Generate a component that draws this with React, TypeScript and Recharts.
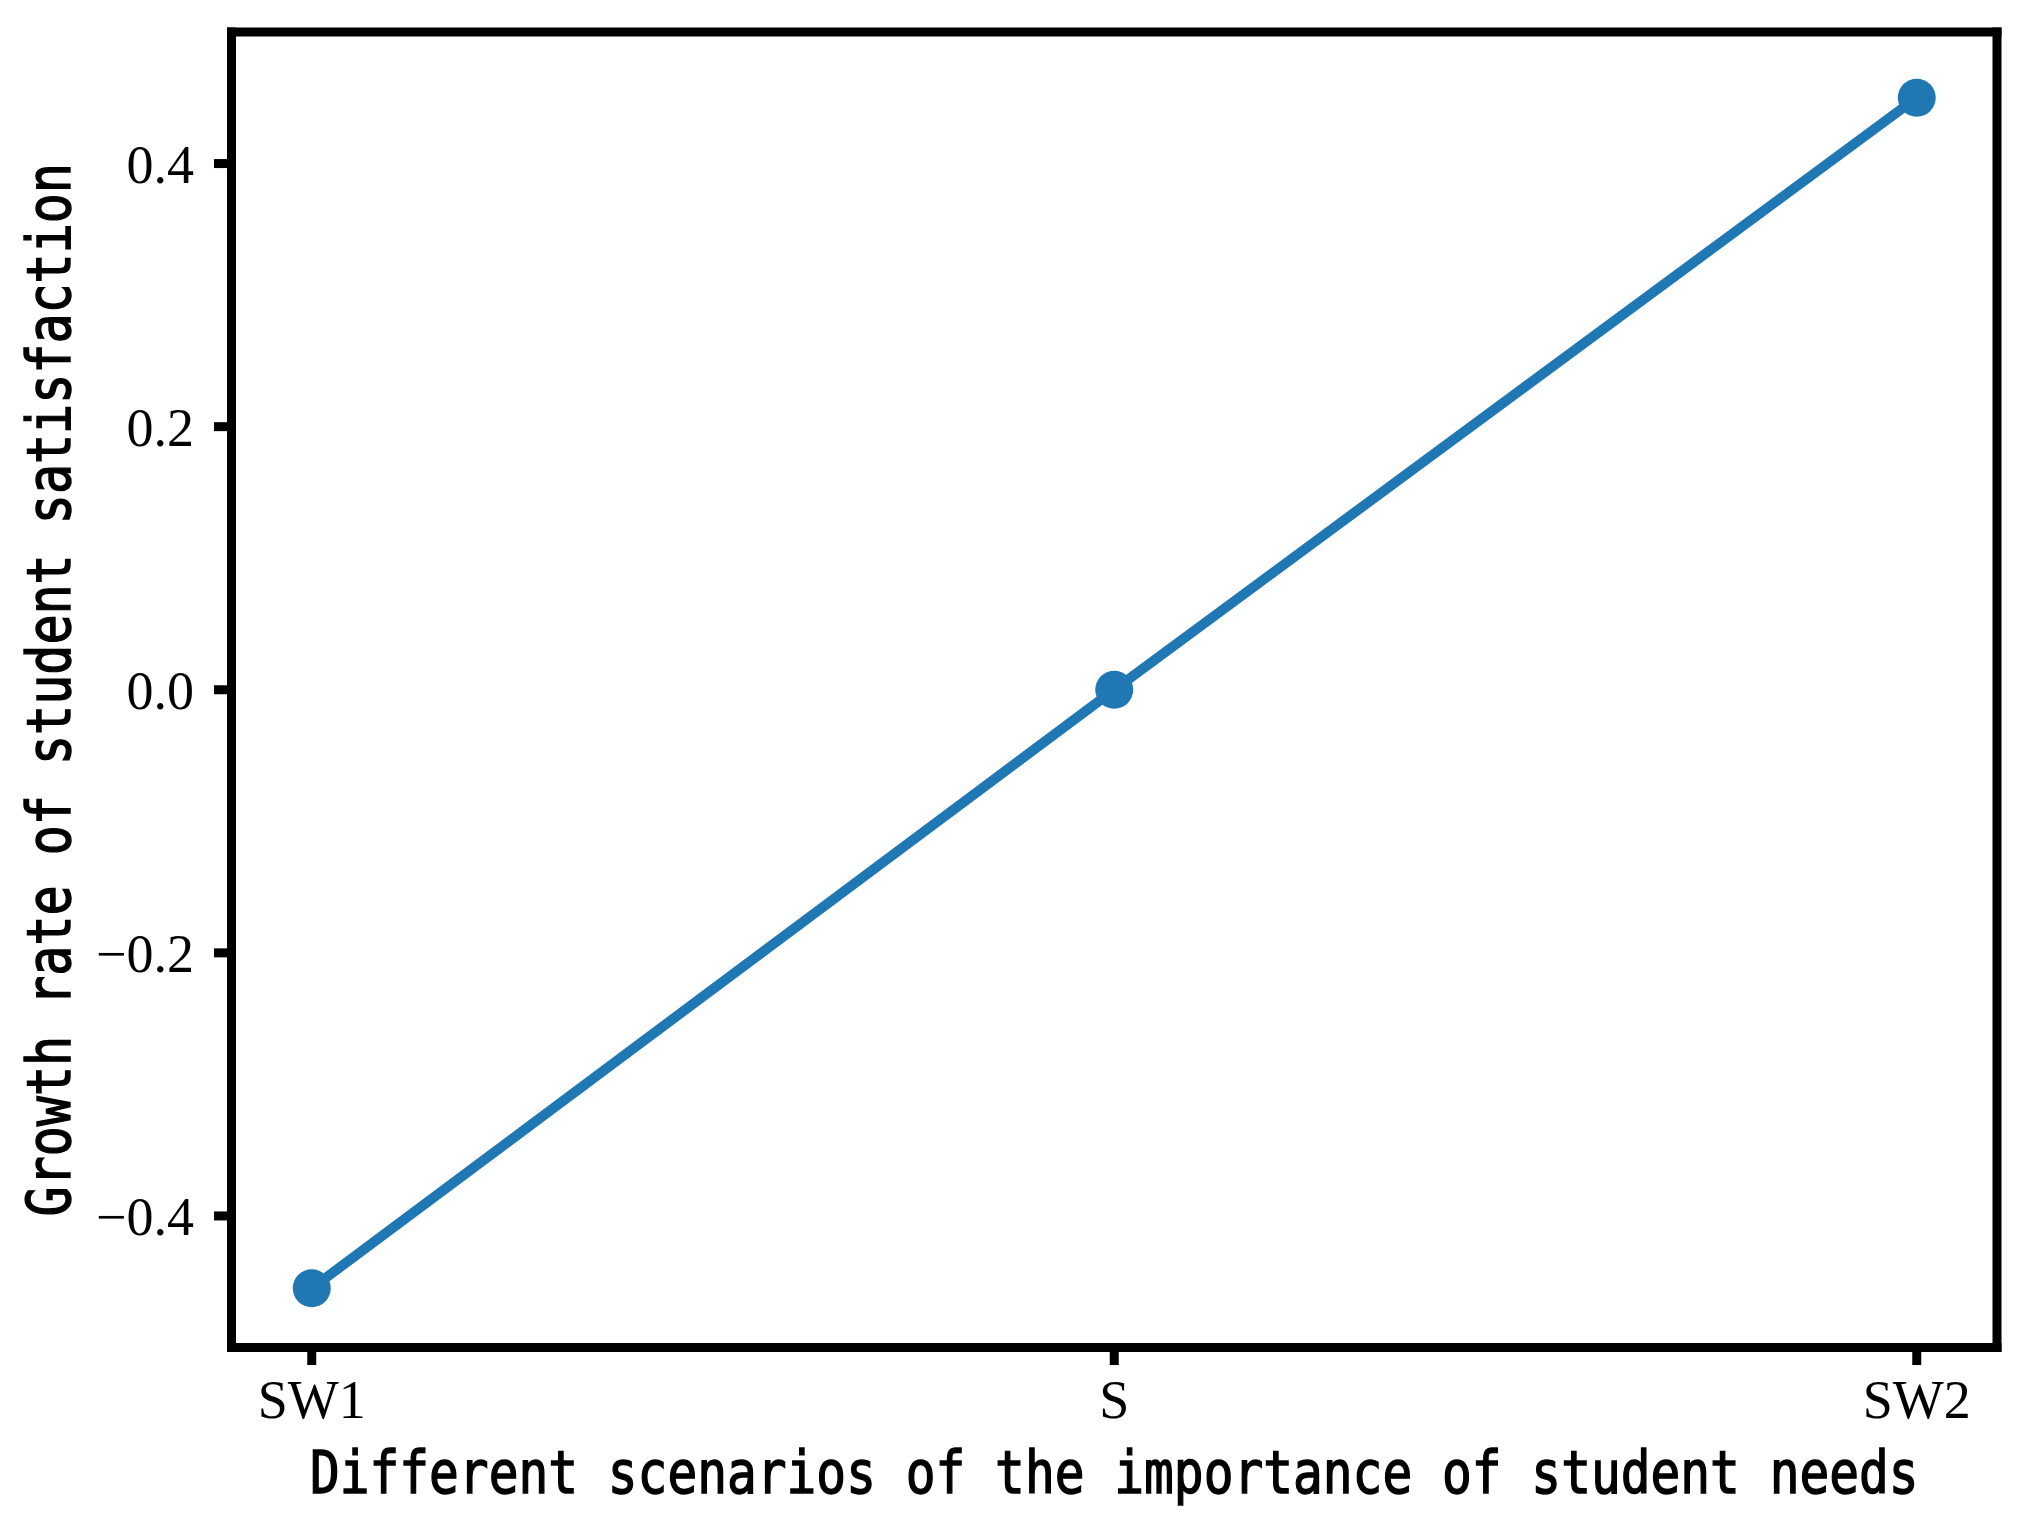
import React from 'react';
import { LineChart, Line, XAxis, YAxis } from 'recharts';

const scenarios = ['SW1', 'S', 'SW2'];
const growthRate = [-0.455, 0, 0.45];
const yTicks = [-0.4, -0.2, 0, 0.2, 0.4];

const data = scenarios.map((name, i) => ({ name, value: growthRate[i] }));

const LINE_COLOR = '#1f77b4';
const frameLine = { stroke: '#000', strokeWidth: 9, strokeLinecap: 'square' as const };
const tickLine = { stroke: '#000', strokeWidth: 9 };
const tickFont = { fontFamily: '"Liberation Serif", "Times New Roman", serif', fontSize: 54, fill: '#000' };
const labelFont = '"DejaVu Sans Mono", "Liberation Mono", monospace';

const fmt = (v: number) => (v < 0 ? '\u2212' + Math.abs(v).toFixed(1) : v.toFixed(1));

const XLabel = (props: any) => {
  const vb = props.viewBox || {};
  const cx = vb.x + vb.width / 2;
  const by = vb.y + 145.5;
  return (
    <text
      transform={`translate(${cx}, ${by}) scale(1, 1.2)`}
      x={0}
      y={0}
      textAnchor="middle"
      fontFamily={labelFont}
      fontSize={49.5}
      fill="#000"
      stroke="#000"
      strokeWidth={1.2}
    >
      Different scenarios of the importance of student needs
    </text>
  );
};

const YLabel = (props: any) => {
  const vb = props.viewBox || {};
  const bx = 70;
  const cy = vb.y + vb.height / 2;
  return (
    <text
      transform={`translate(${bx}, ${cy}) rotate(-90) scale(1, 1.2)`}
      x={0}
      y={0}
      textAnchor="middle"
      fontFamily={labelFont}
      fontSize={50}
      fill="#000"
      stroke="#000"
      strokeWidth={1.2}
    >
      Growth rate of student satisfaction
    </text>
  );
};

export default function App() {
  return (
    <div style={{ position: 'absolute', left: 0, top: 0, background: '#fff' }}>
      <LineChart width={2033} height={1518} data={data} margin={{ top: 31, right: 35, left: 0, bottom: 0 }}>
        <XAxis
          dataKey="name"
          height={170.5}
          padding={{ left: 80.25, right: 80.25 }}
          axisLine={frameLine}
          tickLine={tickLine}
          tickSize={17.5}
          tickMargin={15}
          tick={tickFont}
          label={<XLabel />}
        />
        <XAxis
          xAxisId="top"
          dataKey="name"
          orientation="top"
          height={1}
          padding={{ left: 80.25, right: 80.25 }}
          tick={false}
          tickLine={false}
          axisLine={frameLine}
        />
        <YAxis
          type="number"
          domain={[-0.5, 0.5]}
          ticks={yTicks}
          width={231.5}
          axisLine={frameLine}
          tickLine={tickLine}
          tickSize={17.5}
          tickMargin={20}
          tick={tickFont}
          tickFormatter={fmt}
          label={<YLabel />}
        />
        <YAxis
          yAxisId="right"
          type="number"
          domain={[-0.5, 0.5]}
          orientation="right"
          width={1}
          tick={false}
          tickLine={false}
          axisLine={frameLine}
        />
        {/* invisible series so the top/right frame axes get drawn */}
        <Line
          xAxisId="top"
          yAxisId="right"
          dataKey="value"
          stroke="none"
          dot={false}
          activeDot={false}
          legendType="none"
          isAnimationActive={false}
        />
        <Line
          dataKey="value"
          type="linear"
          stroke={LINE_COLOR}
          strokeWidth={10}
          dot={{ r: 19, fill: LINE_COLOR, stroke: 'none' }}
          activeDot={false}
          isAnimationActive={false}
        />
      </LineChart>
    </div>
  );
}
